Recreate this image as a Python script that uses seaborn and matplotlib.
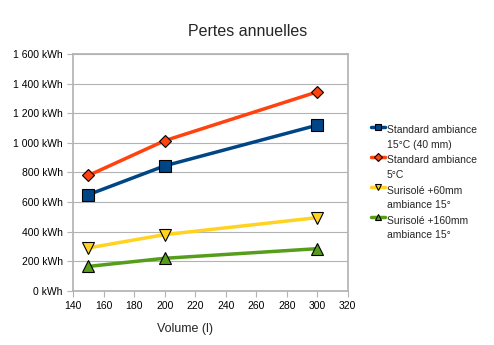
import matplotlib
matplotlib.use("Agg")
import matplotlib.pyplot as plt
import seaborn as sns
import pandas as pd
import numpy as np
from matplotlib.lines import Line2D
from matplotlib.legend_handler import HandlerLine2D

volumes = [150, 200, 300]
std15 = [650, 845, 1120]
std5 = [780, 1015, 1345]
sur60 = [290, 380, 495]
sur160 = [165, 220, 285]
series_names = ["Standard ambiance\n15°C (40 mm)", "Standard ambiance\n5°C",
                "Surisolé +60mm\nambiance 15°", "Surisolé +160mm\nambiance 15°"]
colors = ["#004586", "#ff420e", "#ffd320", "#579d1c"]
markers = ["s", "D", "v", "^"]
msizes = [8, 6, 8, 8]

sns.set_theme(style="white")
plt.rcParams['font.family'] = ['Liberation Sans', 'DejaVu Sans']


class UpHandler(HandlerLine2D):
    def create_artists(self, legend, orig_handle, xdescent, ydescent, width,
                       height, fontsize, trans):
        arts = super().create_artists(legend, orig_handle, xdescent, ydescent,
                                      width, height, fontsize, trans)
        for a in arts:
            a.set_ydata(np.asarray(a.get_ydata()) + fontsize * 1.05)
        return arts


rows = []
for name, vals in zip(series_names, [std15, std5, sur60, sur160]):
    for v, y in zip(volumes, vals):
        rows.append({"Volume": v, "Pertes": y, "Série": name})
df = pd.DataFrame(rows)

fig = plt.figure(figsize=(4.94, 3.45), dpi=100)
ax = fig.add_axes([0.148, 0.157, 0.556, 0.686])

for name, c, m, ms in zip(series_names, colors, markers, msizes):
    sub = df[df["Série"] == name]
    sns.lineplot(data=sub, x="Volume", y="Pertes", ax=ax, color=c, linewidth=2.5,
                 marker=m, markersize=ms, markeredgecolor="black", markeredgewidth=0.8,
                 label=name)

ax.set_xlim(140, 320)
ax.set_ylim(0, 1600)
ax.set_xticks(range(140, 321, 20))
ax.set_yticks(range(0, 1601, 200))
ax.set_yticklabels([f"{v:,} kWh".replace(",", " ") for v in range(0, 1601, 200)])
ax.yaxis.grid(True, color="#b3b3b3", linewidth=0.8)
ax.xaxis.grid(False)
for s in ax.spines.values():
    s.set_color("#b3b3b3")
ax.tick_params(axis="both", labelsize=7.5, colors="#b3b3b3", labelcolor="black",
               length=4, width=0.8, direction="out", bottom=True, left=True)
ax.set_xlabel("")
ax.set_ylabel("")
fig.text(0.375, 0.045, "Volume (l)", ha="center", va="center", fontsize=9)
fig.text(0.502, 0.91, "Pertes annuelles", ha="center", va="center", fontsize=11.5)

leg = ax.legend(loc="upper left", bbox_to_anchor=(1.07, 0.717), frameon=False,
                fontsize=7.5, handlelength=1.3, handletextpad=0.2, labelspacing=0.55,
                borderaxespad=0, handler_map={Line2D: UpHandler()})
for t in leg.get_texts():
    t.set_linespacing(1.55)
for h in leg.legend_handles:
    h.set_markersize(4)
    h.set_linewidth(2.5)

fig.savefig("out.png", dpi=100)
